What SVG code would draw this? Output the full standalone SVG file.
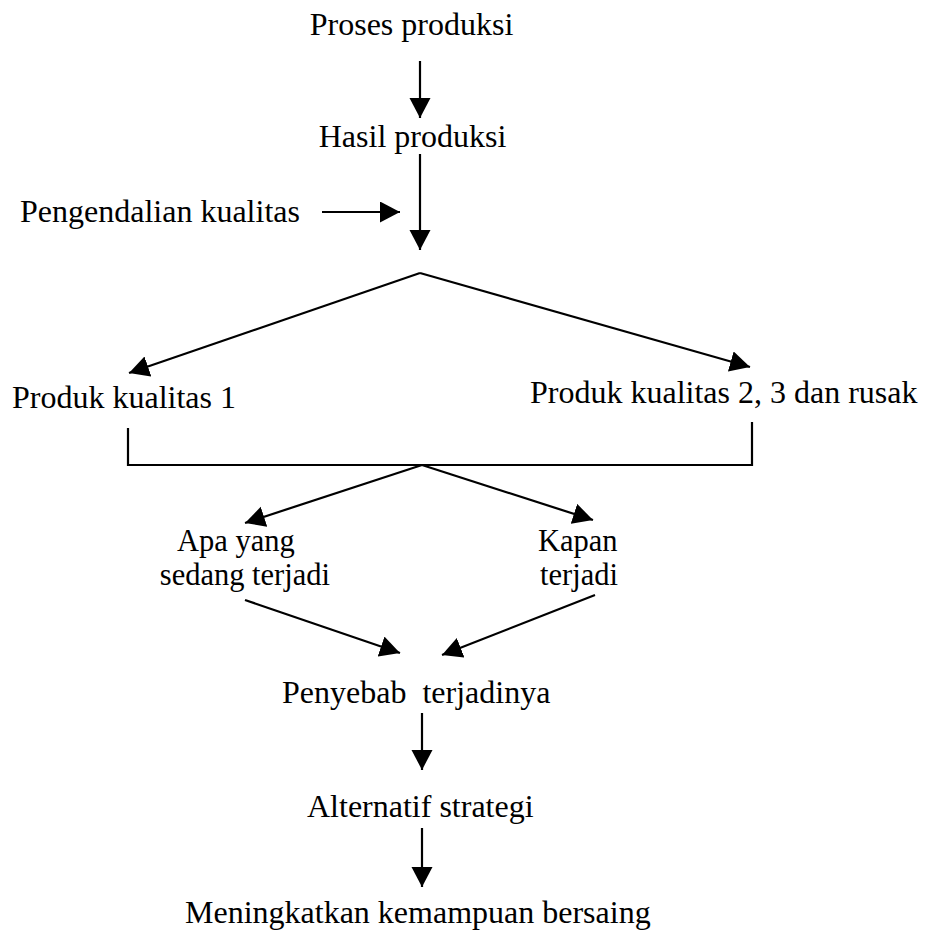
<svg xmlns="http://www.w3.org/2000/svg" width="929" height="932" viewBox="0 0 929 932">
<style>
text{font-family:"Liberation Serif","Times New Roman",serif;font-size:32px;fill:#000;white-space:pre}
text.s{font-size:30.5px}
.c{fill:none;stroke:#000;stroke-width:2.2}
.a{marker-end:url(#ah)}
</style>
<defs>
<marker id="ah" markerUnits="userSpaceOnUse" markerWidth="21" markerHeight="22" refX="20" refY="10.5" orient="auto">
<path d="M0,0 L20,10.5 L0,21 z" fill="#000"/>
</marker>
</defs>
<rect width="929" height="932" fill="#fff"/>
<g id="connectors">
<path class="c a" d="M420,61 V118"/>
<path class="c a" d="M420,154 V250"/>
<path class="c a" d="M322,212 H400"/>
<path class="c a" d="M420,273 L129,373"/>
<path class="c a" d="M420,273 L750,367"/>
<path class="c" d="M128,428 V465 H752 V422"/>
<path class="c a" d="M422,465 L245,523"/>
<path class="c a" d="M422,465 L593,520"/>
<path class="c a" d="M245,600 L400,653"/>
<path class="c a" d="M595,595 L442,655"/>
<path class="c a" d="M422,713 V770"/>
<path class="c a" d="M422,828 V887"/>
</g>
<g id="proses"><text x="411.5" y="35" text-anchor="middle">Proses produksi</text></g>
<g id="hasil"><text x="412.5" y="147" text-anchor="middle">Hasil produksi</text></g>
<g id="pengendalian"><text x="20" y="222">Pengendalian kualitas</text></g>
<g id="kualitas1"><text x="12" y="408">Produk kualitas 1</text></g>
<g id="kualitas23"><text x="530" y="403">Produk kualitas 2, 3 dan rusak</text></g>
<g id="apa"><text class="s" x="177" y="551">Apa yang</text><text class="s" x="330" y="585" text-anchor="end">sedang terjadi</text></g>
<g id="kapan"><text class="s" x="538" y="551">Kapan</text><text class="s" x="540" y="585">terjadi</text></g>
<g id="penyebab"><text x="282" y="703">Penyebab  terjadinya</text></g>
<g id="alternatif"><text x="307" y="817">Alternatif strategi</text></g>
<g id="meningkatkan"><text x="185" y="923">Meningkatkan kemampuan bersaing</text></g>
</svg>
